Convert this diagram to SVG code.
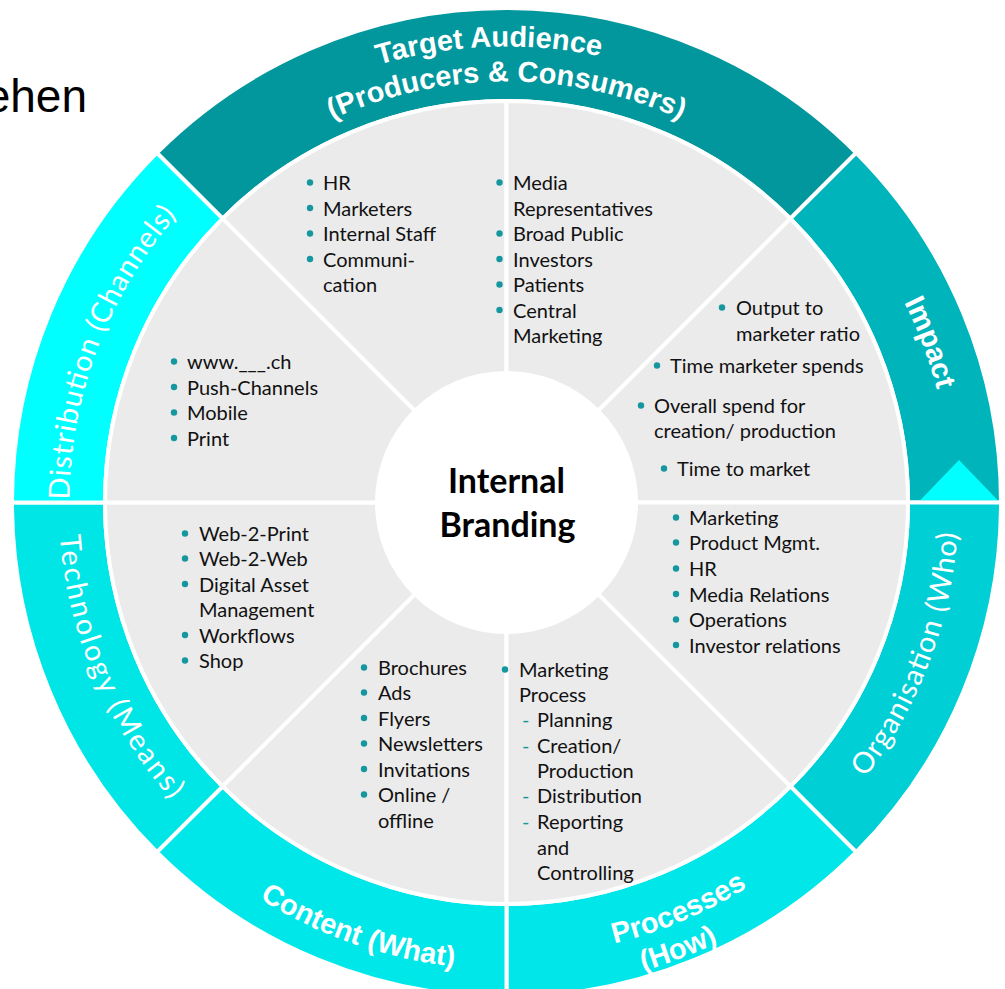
<svg xmlns="http://www.w3.org/2000/svg" width="1005" height="989" viewBox="0 0 1005 989">
<style>
  .ring { stroke: #ffffff; stroke-width: 4; stroke-linejoin: miter; }
  .sector { fill: #EBEBEB; stroke: #ffffff; stroke-width: 4; }
  .lbl { font-family: "Liberation Sans", Arial, sans-serif; font-weight: bold; font-size: 29px; fill: #ffffff; }
  .lblc { font-family: Lato, "Open Sans", sans-serif; font-size: 29px; fill: #ffffff; }
  .item { font-family: Lato, "Open Sans", sans-serif; font-size: 20px; fill: #111111; }
  .dash { font-family: Lato, "Open Sans", sans-serif; font-size: 20px; fill: #1597A0; }
  .bullet { fill: #1597A0; }
  .center { font-family: Lato, "Open Sans", sans-serif; font-weight: bold; font-size: 34px; fill: #000000; }
</style>
<defs>
  <path id="p-ta1" d="M 200.2 164.7 A 456 456 0 0 1 785.99 142.19"/>
  <path id="p-ta2" d="M 235.89 180 A 421 421 0 0 1 777.11 180"/>
  <path id="p-imp" d="M 724.27 114.43 A 445 445 0 0 1 926.5 649.58"/>
  <path id="p-dist" d="M 94.06 646.93 A 437 437 0 0 1 292.64 121.41"/>
  <path id="p-tech" d="M 78.31 370.77 A 448 448 0 0 0 302.42 901.31"/>
  <path id="p-cont" d="M 105.37 741.62 A 467 467 0 0 0 672.34 939.07"/>
  <path id="p-proc1" d="M 373.01 936.43 A 454 454 0 0 0 910.66 709.32"/>
  <path id="p-proc2" d="M 347.62 963.91 A 488 488 0 0 0 933.31 739.09"/>
  <path id="p-org" d="M 727.7 896.68 A 452 452 0 0 0 933.1 353.11"/>
</defs>

<g id="title">
  <text x="87" y="112" font-family="Liberation Sans, Arial, sans-serif" font-size="46" fill="#000000" text-anchor="end">ehen</text>
</g>

<!-- outer ring segments -->
<g id="ring-target-audience">
  <path class="ring" fill="#02979D" d="M 856.17 152.83 A 494.5 494.5 0 0 0 156.83 152.83 L 222.6 218.6 A 401.5 401.5 0 0 1 790.4 218.6 Z"/>
  <text class="lbl" text-anchor="middle"><textPath href="#p-ta1" startOffset="50%">Target Audience</textPath></text>
  <text class="lbl" text-anchor="middle"><textPath href="#p-ta2" startOffset="50%">(Producers &amp; Consumers)</textPath></text>
</g>
<g id="ring-impact">
  <path class="ring" fill="#00B4BC" d="M 1001 502.5 A 494.5 494.5 0 0 0 856.17 152.83 L 790.4 218.6 A 401.5 401.5 0 0 1 908 502.5 Z"/>
  <polygon fill="#00FFFF" points="920,500.5 998,500.5 959,460"/>
  <text class="lbl" text-anchor="middle"><textPath href="#p-imp" startOffset="50%">Impact</textPath></text>
</g>
<g id="ring-organisation">
  <path class="ring" fill="#00CFD6" d="M 856.17 852.17 A 494.5 494.5 0 0 0 1001 502.5 L 908 502.5 A 401.5 401.5 0 0 1 790.4 786.4 Z"/>
  <text class="lblc" text-anchor="middle"><textPath href="#p-org" startOffset="50%" textLength="265" lengthAdjust="spacing">Organisation (Who)</textPath></text>
</g>
<g id="ring-processes">
  <path class="ring" fill="#00E6E9" d="M 506.5 997 A 494.5 494.5 0 0 0 856.17 852.17 L 790.4 786.4 A 401.5 401.5 0 0 1 506.5 904 Z"/>
  <text class="lbl" text-anchor="middle"><textPath href="#p-proc1" startOffset="50%">Processes</textPath></text>
  <text class="lbl" text-anchor="middle"><textPath href="#p-proc2" startOffset="50%">(How)</textPath></text>
</g>
<g id="ring-content">
  <path class="ring" fill="#00E7E9" d="M 156.83 852.17 A 494.5 494.5 0 0 0 506.5 997 L 506.5 904 A 401.5 401.5 0 0 1 222.6 786.4 Z"/>
  <text class="lbl" text-anchor="middle"><textPath href="#p-cont" startOffset="50%">Content (What)</textPath></text>
</g>
<g id="ring-technology">
  <path class="ring" fill="#00E6E6" d="M 12 502.5 A 494.5 494.5 0 0 0 156.83 852.17 L 222.6 786.4 A 401.5 401.5 0 0 1 105 502.5 Z"/>
  <text class="lblc" text-anchor="middle"><textPath href="#p-tech" startOffset="50%" textLength="292" lengthAdjust="spacing">Technology (Means)</textPath></text>
</g>
<g id="ring-distribution">
  <path class="ring" fill="#00FFFF" d="M 156.83 152.83 A 494.5 494.5 0 0 0 12 502.5 L 105 502.5 A 401.5 401.5 0 0 1 222.6 218.6 Z"/>
  <text class="lblc" text-anchor="middle"><textPath href="#p-dist" startOffset="50%" textLength="310" lengthAdjust="spacing">Distribution (Channels)</textPath></text>
</g>

<!-- inner grey sectors -->
<g id="sector-audience-internal">
  <path class="sector" d="M 506.5 502.5 L 506.5 101 A 401.5 401.5 0 0 0 222.6 218.6 Z"/>
  <g class="bullet"><circle cx="310" cy="182.5" r="3.2"/><circle cx="310" cy="208" r="3.2"/><circle cx="310" cy="233.5" r="3.2"/><circle cx="310" cy="259" r="3.2"/></g>
  <text class="item"><tspan x="323" y="190">HR</tspan><tspan x="323" y="215.5">Marketers</tspan><tspan x="323" y="241">Internal Staff</tspan><tspan x="323" y="266.5">Communi-</tspan><tspan x="323" y="292">cation</tspan></text>
</g>
<g id="sector-audience-external">
  <path class="sector" d="M 506.5 502.5 L 790.4 218.6 A 401.5 401.5 0 0 0 506.5 101 Z"/>
  <g class="bullet"><circle cx="499.5" cy="182.5" r="3.2"/><circle cx="499.5" cy="233.5" r="3.2"/><circle cx="499.5" cy="259" r="3.2"/><circle cx="499.5" cy="284.5" r="3.2"/><circle cx="499.5" cy="310" r="3.2"/></g>
  <text class="item"><tspan x="513" y="190">Media</tspan><tspan x="513" y="215.5">Representatives</tspan><tspan x="513" y="241">Broad Public</tspan><tspan x="513" y="266.5">Investors</tspan><tspan x="513" y="292">Patients</tspan><tspan x="513" y="317.5">Central</tspan><tspan x="513" y="343">Marketing</tspan></text>
</g>
<g id="sector-impact">
  <path class="sector" d="M 506.5 502.5 L 908 502.5 A 401.5 401.5 0 0 0 790.4 218.6 Z"/>
  <g class="bullet"><circle cx="722" cy="307.5" r="3.2"/><circle cx="657" cy="365.5" r="3.2"/><circle cx="641" cy="405.5" r="3.2"/><circle cx="664" cy="468.5" r="3.2"/></g>
  <text class="item"><tspan x="736" y="315">Output to</tspan><tspan x="736" y="340.5">marketer ratio</tspan><tspan x="670" y="373">Time marketer spends</tspan><tspan x="654" y="413">Overall spend for</tspan><tspan x="654" y="438">creation/ production</tspan><tspan x="677" y="476">Time to market</tspan></text>
</g>
<g id="sector-organisation">
  <path class="sector" d="M 506.5 502.5 L 790.4 786.4 A 401.5 401.5 0 0 0 908 502.5 Z"/>
  <g class="bullet"><circle cx="676" cy="517.5" r="3.2"/><circle cx="676" cy="542.5" r="3.2"/><circle cx="676" cy="568.5" r="3.2"/><circle cx="676" cy="594" r="3.2"/><circle cx="676" cy="619.5" r="3.2"/><circle cx="676" cy="645" r="3.2"/></g>
  <text class="item"><tspan x="689" y="525">Marketing</tspan><tspan x="689" y="550">Product Mgmt.</tspan><tspan x="689" y="576">HR</tspan><tspan x="689" y="601.5">Media Relations</tspan><tspan x="689" y="627">Operations</tspan><tspan x="689" y="652.5">Investor relations</tspan></text>
</g>
<g id="sector-content">
  <path class="sector" d="M 506.5 502.5 L 222.6 786.4 A 401.5 401.5 0 0 0 506.5 904 Z"/>
  <g class="bullet"><circle cx="364" cy="667.5" r="3.2"/><circle cx="364" cy="692.5" r="3.2"/><circle cx="364" cy="718" r="3.2"/><circle cx="364" cy="743.5" r="3.2"/><circle cx="364" cy="769" r="3.2"/><circle cx="364" cy="794.5" r="3.2"/></g>
  <text class="item"><tspan x="378" y="675">Brochures</tspan><tspan x="378" y="700">Ads</tspan><tspan x="378" y="725.5">Flyers</tspan><tspan x="378" y="751">Newsletters</tspan><tspan x="378" y="776.5">Invitations</tspan><tspan x="378" y="802">Online /</tspan><tspan x="378" y="827.5">offline</tspan></text>
</g>
<g id="sector-processes">
  <path class="sector" d="M 506.5 502.5 L 506.5 904 A 401.5 401.5 0 0 0 790.4 786.4 Z"/>
  <g class="bullet"><circle cx="505" cy="669.5" r="3.2"/></g>
  <text class="item"><tspan x="519" y="677">Marketing</tspan><tspan x="519" y="702">Process</tspan><tspan x="537" y="727">Planning</tspan><tspan x="537" y="752.5">Creation/</tspan><tspan x="537" y="777.5">Production</tspan><tspan x="537" y="803">Distribution</tspan><tspan x="537" y="829">Reporting</tspan><tspan x="537" y="854.5">and</tspan><tspan x="537" y="880">Controlling</tspan></text>
  <text class="dash"><tspan x="522" y="727">-</tspan><tspan x="522" y="752.5">-</tspan><tspan x="522" y="803">-</tspan><tspan x="522" y="829">-</tspan></text>
</g>
<g id="sector-technology">
  <path class="sector" d="M 506.5 502.5 L 105 502.5 A 401.5 401.5 0 0 0 222.6 786.4 Z"/>
  <g class="bullet"><circle cx="185" cy="533.5" r="3.2"/><circle cx="185" cy="558.5" r="3.2"/><circle cx="185" cy="584" r="3.2"/><circle cx="185" cy="635" r="3.2"/><circle cx="185" cy="660.5" r="3.2"/></g>
  <text class="item"><tspan x="199" y="541">Web-2-Print</tspan><tspan x="199" y="566">Web-2-Web</tspan><tspan x="199" y="591.5">Digital Asset</tspan><tspan x="199" y="617">Management</tspan><tspan x="199" y="642.5">Workflows</tspan><tspan x="199" y="668">Shop</tspan></text>
</g>
<g id="sector-distribution">
  <path class="sector" d="M 506.5 502.5 L 222.6 218.6 A 401.5 401.5 0 0 0 105 502.5 Z"/>
  <g class="bullet"><circle cx="174" cy="361.5" r="3.2"/><circle cx="174" cy="387" r="3.2"/><circle cx="174" cy="412.5" r="3.2"/><circle cx="174" cy="438" r="3.2"/></g>
  <text class="item"><tspan x="187" y="369">www.___.ch</tspan><tspan x="187" y="394.5">Push-Channels</tspan><tspan x="187" y="420">Mobile</tspan><tspan x="187" y="445.5">Print</tspan></text>
</g>

<g id="center">
  <circle cx="506.5" cy="502.5" r="131.5" fill="#ffffff"/>
  <text class="center" text-anchor="middle"><tspan x="506.5" y="493">Internal</tspan><tspan x="507.5" y="537">Branding</tspan></text>
</g>
</svg>
